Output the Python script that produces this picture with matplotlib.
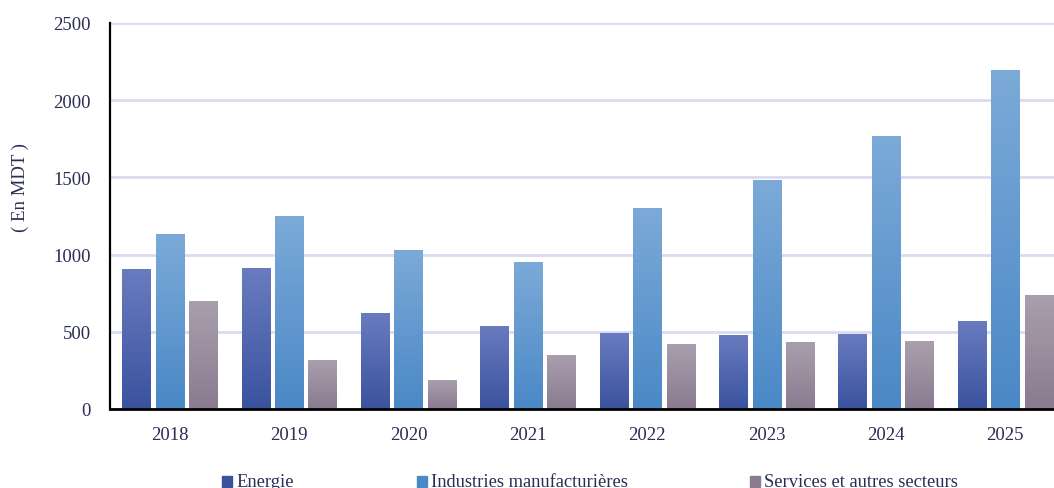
import numpy as np
import matplotlib.pyplot as plt
from matplotlib.colors import LinearSegmentedColormap
from matplotlib.patches import Rectangle

years = ["2018", "2019", "2020", "2021", "2022", "2023", "2024", "2025"]
energie = [907, 910, 622, 538, 492, 480, 486, 570]
industries = [1133, 1250, 1030, 952, 1302, 1483, 1768, 2196]
services = [700, 320, 190, 350, 421, 434, 440, 738]

series = ["Energie", "Industries manufacturières", "Services et autres secteurs"]
# (top colour, bottom colour) for each series
grads = [("#6a7cc0", "#3a529e"), ("#7caad8", "#4a88c6"), ("#a99fae", "#8a7b8f")]

text_col = "#2a2d55"
plt.rcParams['font.family'] = ['Liberation Serif', 'DejaVu Serif']

fig = plt.figure(figsize=(10.54, 4.89), dpi=100)
# axes run past the right edge of the figure
ax = fig.add_axes([110 / 1054, 79 / 489, 955 / 1054, 386 / 489])

x = np.arange(len(years))
width = 0.235
offset = 0.28
grad = np.linspace(0, 1, 256).reshape(-1, 1)

for i, vals in enumerate([energie, industries, services]):
    cmap = LinearSegmentedColormap.from_list(series[i], [grads[i][1], grads[i][0]])
    bars = ax.bar(x + (i - 1) * offset, vals, width, color="none", edgecolor="none", zorder=2)
    for b in bars:
        bx, by = b.get_x(), b.get_y()
        w, h = b.get_width(), b.get_height()
        im = ax.imshow(grad, cmap=cmap, origin="lower", aspect="auto",
                       extent=[bx, bx + w, by, by + h], zorder=2)
        im.set_clip_path(b)

ax.set_xlim(-0.5, len(years) - 0.5)
ax.set_ylim(0, 2500)
ax.set_yticks(range(0, 2501, 500))
ax.set_xticks(x)
ax.set_xticklabels(years)
ax.grid(axis="y", color="#d9dcf0", linewidth=2, zorder=0)
ax.set_axisbelow(True)
ax.tick_params(length=0, labelsize=13.5, labelcolor=text_col)
ax.tick_params(axis="x", pad=12)
ax.tick_params(axis="y", pad=14)
for s in ["top", "right"]:
    ax.spines[s].set_visible(False)
ax.spines["left"].set_linewidth(1.6)
ax.spines["bottom"].set_linewidth(2)
ax.spines["left"].set_zorder(3)
ax.spines["bottom"].set_zorder(3)

fig.text(20 / 1054, 1 - 188 / 489, "( En MDT )", rotation=90, ha="center", va="center",
         fontsize=13.5, color=text_col)

# legend along the bottom
leg_x = [222, 417, 750]
for i, name in enumerate(series):
    fig.add_artist(Rectangle((leg_x[i] / 1054, 1 - 488 / 489), 10 / 1054, 11 / 489,
                             transform=fig.transFigure, color=grads[i][1]))
    fig.text((leg_x[i] + 14) / 1054, 1 - 487 / 489, name, ha="left", va="baseline",
             fontsize=13.3, color=text_col)

fig.savefig("out.png", dpi=100)
